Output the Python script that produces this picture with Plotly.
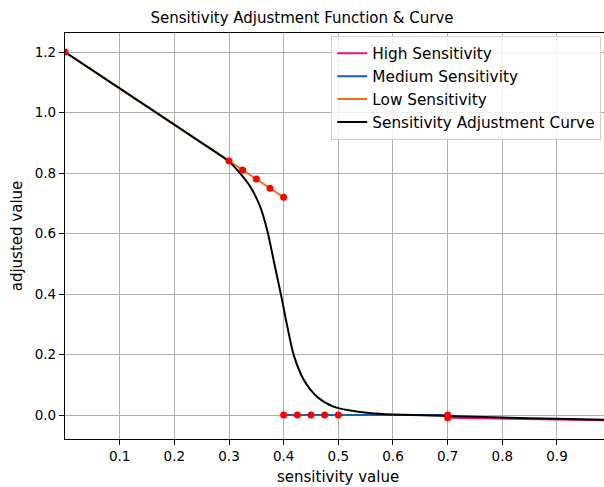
import plotly.graph_objects as go

# Data
low_x = [0.0, 0.4]
low_y = [1.2, 0.72]
med_x = [0.4, 0.7]
med_y = [0.0, 0.0]
high_x = [0.7, 1.0]
high_y = [-0.009, -0.017]

curve_x = [0.0, 0.1, 0.2, 0.25, 0.3, 0.32, 0.339, 0.357, 0.37, 0.383, 0.396,
           0.407, 0.419, 0.437, 0.461, 0.491, 0.522, 0.56, 0.6, 0.7, 0.8, 0.9, 1.0]
curve_y = [1.2, 1.08, 0.96, 0.90, 0.838, 0.80, 0.755, 0.689, 0.61, 0.50, 0.39,
           0.29, 0.195, 0.116, 0.061, 0.028, 0.015, 0.006, 0.002, -0.003, -0.008, -0.012, -0.016]

pts_x = [0.0, 0.3, 0.325, 0.35, 0.375, 0.4, 0.4, 0.425, 0.45, 0.475, 0.5, 0.7, 0.7, 1.0]
pts_y = [1.2, 0.84, 0.81, 0.78, 0.75, 0.72, 0.0, 0.0, 0.0, 0.0, 0.0, 0.0, -0.009, -0.017]

x_ticks = [0.1, 0.2, 0.3, 0.4, 0.5, 0.6, 0.7, 0.8, 0.9]
y_ticks = [0.0, 0.2, 0.4, 0.6, 0.8, 1.0, 1.2]

FONT = "DejaVu Sans"

fig = go.Figure()
fig.add_trace(go.Scatter(x=high_x, y=high_y, mode="lines", name="High Sensitivity",
                         line=dict(color="#f0127d", width=2)))
fig.add_trace(go.Scatter(x=med_x, y=med_y, mode="lines", name="Medium Sensitivity",
                         line=dict(color="#1560b0", width=2)))
fig.add_trace(go.Scatter(x=low_x, y=low_y, mode="lines", name="Low Sensitivity",
                         line=dict(color="#ff6a10", width=2)))
fig.add_trace(go.Scatter(x=curve_x, y=curve_y, mode="lines", name="Sensitivity Adjustment Curve",
                         line=dict(color="black", width=2, shape="spline", smoothing=0.8)))
fig.add_trace(go.Scatter(x=pts_x, y=pts_y, mode="markers", showlegend=False,
                         marker=dict(color="red", size=7)))

fig.update_layout(
    width=604, height=487,
    margin=dict(l=65, r=0, t=33, b=48),
    paper_bgcolor="white", plot_bgcolor="white",
    font=dict(family=FONT, size=13.5, color="black"),
    title=dict(text="Sensitivity Adjustment Function & Curve", xref="container", x=0.5,
               xanchor="center", y=0.963, yanchor="middle", font=dict(size=15)),
    showlegend=True,
    legend=dict(x=0.494, y=0.993, xanchor="left", yanchor="top",
                bgcolor="rgba(255,255,255,0.8)", bordercolor="#d0d0d0", borderwidth=1,
                font=dict(size=15.3), tracegroupgap=0, itemwidth=30),
    annotations=[dict(text="sensitivity value", xref="x", x=0.5, yref="paper", y=0,
                      yshift=-27, yanchor="top", showarrow=False, font=dict(size=15))],
)
fig.update_xaxes(range=[0, 0.986], tickvals=x_ticks, ticktext=[f"{v:.1f}" for v in x_ticks],
                 showgrid=True, gridcolor="#b0b0b0", gridwidth=1.3,
                 showline=True, linecolor="black", linewidth=1.2, mirror=True,
                 ticks="outside", ticklen=5, tickcolor="black", zeroline=False)
fig.update_yaxes(range=[-0.079, 1.263], tickvals=y_ticks, ticktext=[f"{v:.1f}" for v in y_ticks],
                 title=dict(text="adjusted value", standoff=8, font=dict(size=15)),
                 showgrid=True, gridcolor="#b0b0b0", gridwidth=1.3,
                 showline=True, linecolor="black", linewidth=1.2, mirror=True,
                 ticks="outside", ticklen=5, tickcolor="black", zeroline=False)

fig.write_html("out.html")
